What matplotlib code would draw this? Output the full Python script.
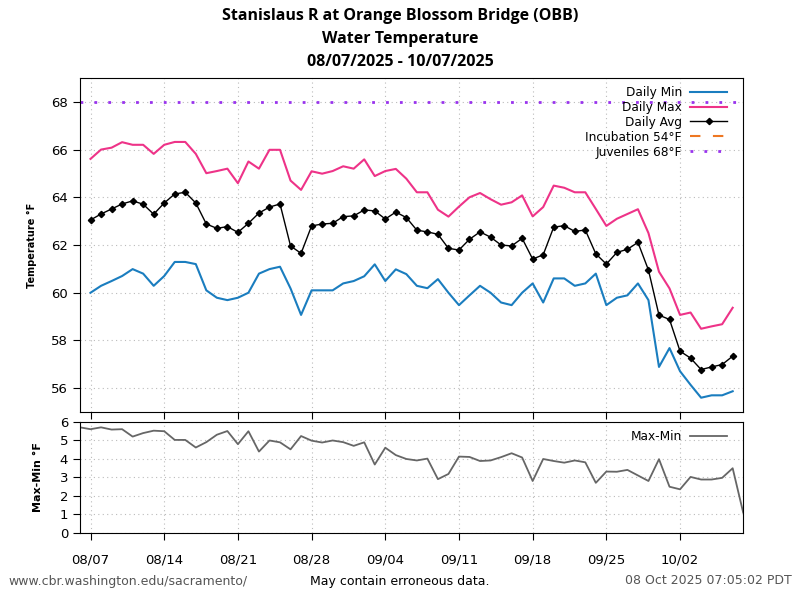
import matplotlib
matplotlib.use("Agg")
import matplotlib.pyplot as plt
import matplotlib.dates as mdates
import numpy as np
from datetime import datetime, timedelta

start = datetime(2025, 8, 7)
n_days = 62
dates = [start + timedelta(days=i) for i in range(n_days)]

daily_min = [60.00, 60.29, 60.49, 60.70, 60.99, 60.80, 60.29, 60.70, 61.29, 61.29,
             61.20, 60.10, 59.79, 59.69, 59.79, 60.00, 60.80, 60.99, 61.09, 60.18,
             59.07, 60.10, 60.10, 60.10, 60.39, 60.49, 60.69, 61.19, 60.49, 60.98,
             60.78, 60.29, 60.19, 60.57, 60.00, 59.48, 59.89, 60.29, 60.00, 59.59,
             59.48, 60.00, 60.39, 59.59, 60.60, 60.60, 60.29, 60.39, 60.80, 59.48,
             59.79, 59.89, 60.39, 59.69, 56.89, 57.68, 56.71, 56.14, 55.60, 55.70,
             55.70, 55.87]
daily_max = [65.61, 66.00, 66.08, 66.31, 66.20, 66.20, 65.82, 66.20, 66.32, 66.32,
             65.82, 65.01, 65.10, 65.20, 64.59, 65.50, 65.20, 65.99, 65.99, 64.70,
             64.31, 65.09, 64.99, 65.10, 65.30, 65.20, 65.59, 64.89, 65.10, 65.19,
             64.78, 64.21, 64.21, 63.48, 63.19, 63.61, 64.00, 64.18, 63.92, 63.69,
             63.79, 64.08, 63.20, 63.59, 64.49, 64.40, 64.21, 64.21, 63.51, 62.80,
             63.10, 63.30, 63.50, 62.50, 60.88, 60.18, 59.07, 59.17, 58.49, 58.59,
             58.68, 59.37]
daily_avg = [63.05, 63.30, 63.51, 63.72, 63.85, 63.71, 63.29, 63.76, 64.14, 64.21,
             63.76, 62.88, 62.70, 62.77, 62.53, 62.91, 63.34, 63.59, 63.72, 61.96,
             61.65, 62.80, 62.88, 62.91, 63.19, 63.22, 63.47, 63.43, 63.09, 63.38,
             63.15, 62.62, 62.55, 62.45, 61.86, 61.79, 62.24, 62.55, 62.33, 62.00,
             61.96, 62.28, 61.41, 61.59, 62.75, 62.81, 62.57, 62.63, 61.63, 61.20,
             61.69, 61.82, 62.11, 60.95, 59.06, 58.88, 57.55, 57.26, 56.78, 56.89,
             56.99, 57.34]

# Max-Min series (extends one day before and after)
diff_dates = [start + timedelta(days=i) for i in range(-1, n_days + 1)]
diff_vals = [5.71,
             5.61, 5.71, 5.59, 5.61, 5.21, 5.40, 5.53, 5.50, 5.03, 5.03,
             4.62, 4.91, 5.31, 5.51, 4.80, 5.50, 4.40, 5.00, 4.90, 4.52,
             5.24, 4.99, 4.89, 5.00, 4.91, 4.71, 4.90, 3.70, 4.61, 4.21,
             4.00, 3.92, 4.02, 2.91, 3.19, 4.13, 4.11, 3.89, 3.92, 4.10,
             4.31, 4.08, 2.81, 4.00, 3.89, 3.80, 3.92, 3.82, 2.71, 3.32,
             3.31, 3.41, 3.11, 2.81, 3.99, 2.50, 2.36, 3.03, 2.89, 2.89,
             2.98, 3.50,
             1.10]

incubation = 54
juveniles = 68

title_lines = ["Stanislaus R at Orange Blossom Bridge (OBB)", "Water Temperature",
               "08/07/2025 - 10/07/2025"]

c_min = "#1a7dbf"
c_max = "#ee3388"
c_inc = "#ee7722"
c_juv = "#9933ee"
c_diff = "#666666"

fig = plt.figure(figsize=(8, 6), dpi=100)
ax1 = fig.add_axes([0.1, 0.3133, 0.829, 0.5567])
ax2 = fig.add_axes([0.1, 0.1117, 0.829, 0.185])

ax1.plot(dates, daily_min, color=c_min, lw=1.5, label="Daily Min")
ax1.plot(dates, daily_max, color=c_max, lw=1.5, label="Daily Max")
ax1.plot(dates, daily_avg, color="black", lw=1, marker="D", ms=3.2, label="Daily Avg")
ax1.axhline(incubation, color=c_inc, lw=1.5, ls=(0, (5, 6)), label="Incubation 54°F")
ax1.axhline(juveniles, color=c_juv, lw=2, ls=(0, (1, 4)), label="Juveniles 68°F")

xmin = start - timedelta(days=1)
xmax = start + timedelta(days=n_days)
ax1.set_xlim(xmin, xmax)
ax1.set_ylim(55, 69)
ax1.set_yticks([56, 58, 60, 62, 64, 66, 68])
ticks = [start + timedelta(days=7 * k) for k in range(9)]
ax1.set_xticks(ticks)
ax1.set_xticklabels([])
ax1.grid(True, ls=(0, (1, 3)), color="#bbbbbb", lw=0.8)
ax1.set_ylabel("Temperature °F", fontsize=7, fontweight="bold", labelpad=10)
ax1.tick_params(labelsize=9.5, length=5)

leg = ax1.legend(loc="upper right", bbox_to_anchor=(0.988, 1.0), frameon=False,
                 markerfirst=False, fontsize=8.7,
                 handlelength=3.1, handletextpad=0.66, labelspacing=0.16,
                 borderaxespad=0.25)

ax2.plot(diff_dates, diff_vals, color=c_diff, lw=1.3, label="Max-Min")
ax2.set_xlim(xmin, xmax)
ax2.set_ylim(0, 6)
ax2.set_yticks(range(0, 7))
ax2.set_xticks(ticks)
ax2.xaxis.set_major_formatter(mdates.DateFormatter("%m/%d"))
ax2.grid(True, ls=(0, (1, 3)), color="#bbbbbb", lw=0.8)
ax2.set_ylabel("Max-Min °F", fontsize=8, fontweight="bold", labelpad=12)
ax2.tick_params(labelsize=9.5, length=5)
ax2.tick_params(axis="x", pad=10)
ax2.legend(loc="upper right", bbox_to_anchor=(0.988, 1.0), frameon=False,
           markerfirst=False, fontsize=8.7,
           handlelength=3.1, handletextpad=0.66, borderaxespad=0.25)

for i, t in enumerate(title_lines):
    fig.text(0.5, 1 - (16 + 23 * i) / 600, t, ha="center", va="center",
             fontsize=11.5, fontweight="bold", family=["Open Sans", "DejaVu Sans"])

fig.text(8 / 800, 1 - 581 / 600, "www.cbr.washington.edu/sacramento/", ha="left",
         va="center", fontsize=9, color="#555555")
fig.text(0.5, 1 - 581 / 600, "May contain erroneous data.", ha="center",
         va="center", fontsize=9, color="black")
fig.text(792 / 800, 1 - 581 / 600, "08 Oct 2025 07:05:02 PDT", ha="right",
         va="center", fontsize=9, color="#555555")

fig.savefig("out.png", dpi=100)
